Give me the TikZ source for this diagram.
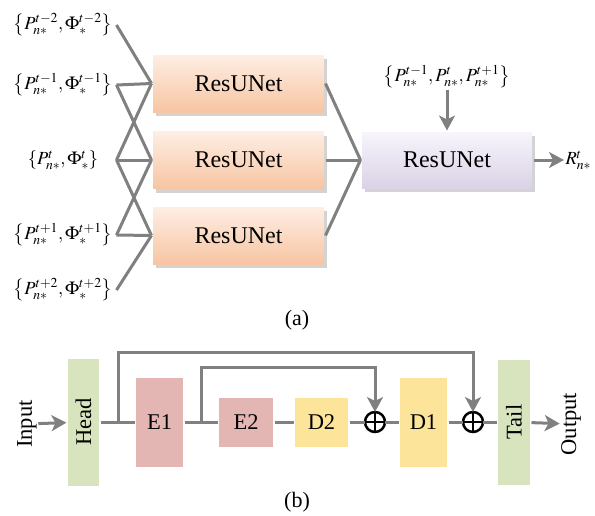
\documentclass[tikz,border=0pt]{standalone}
\usepackage{mathptmx}
\usepackage{fontspec}
\setmainfont{Liberation Serif}
\usetikzlibrary{arrows.meta,shadows}
\definecolor{linegray}{RGB}{128,128,128}
\definecolor{peachtop}{RGB}{254,238,228}
\definecolor{peachbot}{RGB}{247,197,162}
\definecolor{lavtop}{RGB}{248,245,252}
\definecolor{lavbot}{RGB}{218,210,230}
\definecolor{headgreen}{RGB}{215,228,190}
\definecolor{encpink}{RGB}{227,182,180}
\definecolor{decyellow}{RGB}{253,228,155}

\begin{document}
\begin{tikzpicture}[x=1pt,y=-1pt]
\tikzstyle{every path}=[line width=3pt]
\tikzstyle{link}=[draw=linegray]
\tikzstyle{arr}=[link,-{Stealth[length=15pt,width=16pt,inset=4pt]}]
\tikzstyle{inlab}=[minimum width=104pt,inner sep=0pt,font=\fontsize{18.5}{22}\selectfont]
\tikzstyle{resbox}=[minimum width=171pt,minimum height=57pt,inner sep=0pt,
  top color=peachtop,bottom color=peachbot,
  drop shadow={shadow xshift=3pt,shadow yshift=-4pt,opacity=.35},
  font=\fontsize{24}{28}\selectfont]
\tikzstyle{blk}=[inner sep=0pt,font=\fontsize{22.5}{26}\selectfont]
\tikzstyle{fuse}=[circle,draw=black,line width=2.5pt,minimum size=20pt,
  inner sep=0pt,outer sep=0pt]
\tikzstyle{capt}=[font=\fontsize{22}{26}\selectfont]
\useasboundingbox (0,0) rectangle (595,515);

%% (a): three ResUNets over neighbouring frames
\node[inlab] (p1) at (63,25)  {$\left\{P^{t-2}_{n*},\Phi^{t-2}_{*}\right\}$};
\node[inlab] (p2) at (63,85)  {$\left\{P^{t-1}_{n*},\Phi^{t-1}_{*}\right\}$};
\node[inlab] (p3) at (63,160) {$\left\{P^{t}_{n*},\Phi^{t}_{*}\right\}$};
\node[inlab] (p4) at (63,235) {$\left\{P^{t+1}_{n*},\Phi^{t+1}_{*}\right\}$};
\node[inlab] (p5) at (63,290) {$\left\{P^{t+2}_{n*},\Phi^{t+2}_{*}\right\}$};

\node[resbox] (r1) at (238.5,83.5) {ResUNet};
\node[resbox] (r2) at (238.5,160)  {ResUNet};
\node[resbox] (r3) at (238.5,235.5) {ResUNet};

\node[resbox,top color=lavtop,bottom color=lavbot,minimum width=170pt,
  minimum height=56pt] (rb) at (447,160) {ResUNet};

\foreach \a/\b in {p1/r1,p2/r1,p3/r1,p2/r2,p3/r2,p4/r2,p3/r3,p4/r3,p5/r3}
  \draw[link] (\a.east) -- (\b.west);
\foreach \a in {r1,r2,r3}
  \draw[link] (\a.east) -- (rb.west);

\node[inlab,minimum width=0pt] (pc) at (447,77)
  {$\left\{P^{t-1}_{n*},P^{t}_{n*},P^{t+1}_{n*}\right\}$};
\draw[arr] (pc.south) -- (rb.north);
\node[inlab,minimum width=0pt,anchor=west] (rt) at (564,160) {$R^{t}_{n*}$};
\draw[arr] (rb.east) -- (rt.west);

\node[capt] (capa) at (297,320) {(a)};

%% (b): inside one ResUNet
\node[blk] (inp) at (27,424) {\rotatebox{90}{Input}};
\node[blk,fill=headgreen,minimum width=31pt,minimum height=127pt] (head) at (83.5,422) {\rotatebox{90}{Head}};
\node[blk,fill=encpink,minimum width=47pt,minimum height=89pt] (e1) at (159.5,422) {E1};
\node[blk,fill=encpink,minimum width=54pt,minimum height=49pt] (e2) at (246,422) {E2};
\node[blk,fill=decyellow,minimum width=53pt,minimum height=49pt] (d2) at (321.5,422) {D2};
\node[fuse] (s1) at (375,422) {};
\node[blk,fill=decyellow,minimum width=47pt,minimum height=89pt] (d1) at (423.5,422) {D1};
\node[fuse] (s2) at (473,422) {};
\node[blk,fill=headgreen,minimum width=32pt,minimum height=125pt] (tail) at (514,422) {\rotatebox{90}{Tail}};
\node[blk] (outp) at (571,424) {\rotatebox{90}{Output}};

\foreach \s in {s1,s2}
  \draw[line width=2.5pt] (\s.north) -- (\s.south) (\s.west) -- (\s.east);

\draw[arr] (inp) -- (head);
\draw[link] (head) -- (e1) -- (e2) -- (d2) -- (s1) -- (d1) -- (s2) -- (tail);
\draw[arr] (tail) -- (outp);

\coordinate (k1) at (118,422);
\coordinate (k2) at (201,422);
\draw[arr] (k1) -- ++(0,-70) -| (s2.north);
\draw[arr] (k2) -- ++(0,-55) -| (s1.north);

\node[capt] (capb) at (297,502) {(b)};
\end{tikzpicture}
\end{document}
